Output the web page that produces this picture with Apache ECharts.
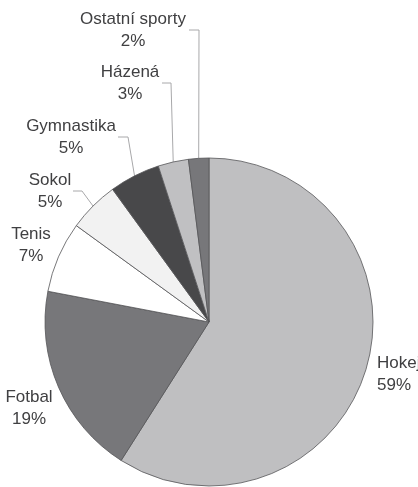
<!DOCTYPE html>
<html>
<head>
<meta charset="utf-8">
<script src="https://cdn.jsdelivr.net/npm/echarts@6/dist/echarts.min.js"></script>
<style>
  html, body { margin: 0; padding: 0; background: #fff; }
  #chart { width: 418px; height: 487px; }
</style>
</head>
<body>
<div id="chart"></div>
<script>
// data
var sports = ['Hokej', 'Fotbal', 'Tenis', 'Sokol', 'Gymnastika', 'Házená', 'Ostatní sporty'];
var shares = [59, 19, 7, 5, 5, 3, 2];
var sliceColors = ['#bfbfc1', '#77777a', '#ffffff', '#f2f2f2', '#48484a', '#c0c0c2', '#77777a'];

// label placement (x, y of text block centre, alignment) and leader line bends
var labelPos = [
    [377, 374, 'left'],
    [29, 408, 'center'],
    [31, 245, 'center'],
    [50, 191, 'center'],
    [71, 137, 'center'],
    [130, 83, 'center'],
    [133, 30, 'center']
];
var leaders = [
    null, null, null,
    [[73, 191], [82, 191]],
    [[118, 137], [128, 137]],
    [[162, 83], [171, 83]],
    [[189, 30], [199, 30]]
];

var cx = 209, cy = 322, R = 164;
var total = shares.reduce(function (a, b) { return a + b; }, 0);

// point on pie rim at the middle of slice i
function rimPoint(i) {
    var cum = 0;
    for (var k = 0; k < i; k++) cum += shares[k];
    var m = (cum + shares[i] / 2) / total;
    var a = (90 - m * 360) * Math.PI / 180;
    return [cx + R * Math.cos(a), cy - R * Math.sin(a)];
}

var chart = echarts.init(document.getElementById('chart'));

var data = [];
for (var i = 0; i < sports.length; i++) {
    data.push({
        name: sports[i],
        value: shares[i],
        itemStyle: { color: sliceColors[i] },
        labelLine: { show: leaders[i] !== null }
    });
}

chart.setOption({
    animation: false,
    series: [{
        type: 'pie',
        center: [cx, cy],
        radius: R,
        startAngle: 90,
        clockwise: true,
        avoidLabelOverlap: false,
        itemStyle: { borderColor: '#555558', borderWidth: 0.8 },
        label: {
            show: true,
            position: 'outside',
            fontFamily: 'Liberation Sans, Arial, sans-serif',
            fontSize: 17,
            lineHeight: 22,
            color: '#404042',
            formatter: function (p) { return p.name + '\n' + p.value + '%'; }
        },
        labelLine: {
            show: true,
            lineStyle: { color: '#a8a8aa', width: 1 }
        },
        emphasis: { disabled: true },
        labelLayout: function (params) {
            var i = params.dataIndex;
            var pos = labelPos[i];
            var out = {
                x: pos[0],
                y: pos[1],
                align: pos[2],
                verticalAlign: 'middle'
            };
            if (leaders[i]) {
                out.labelLinePoints = [rimPoint(i), leaders[i][1], leaders[i][0]];
            }
            return out;
        },
        data: data
    }]
});
</script>
</body>
</html>
